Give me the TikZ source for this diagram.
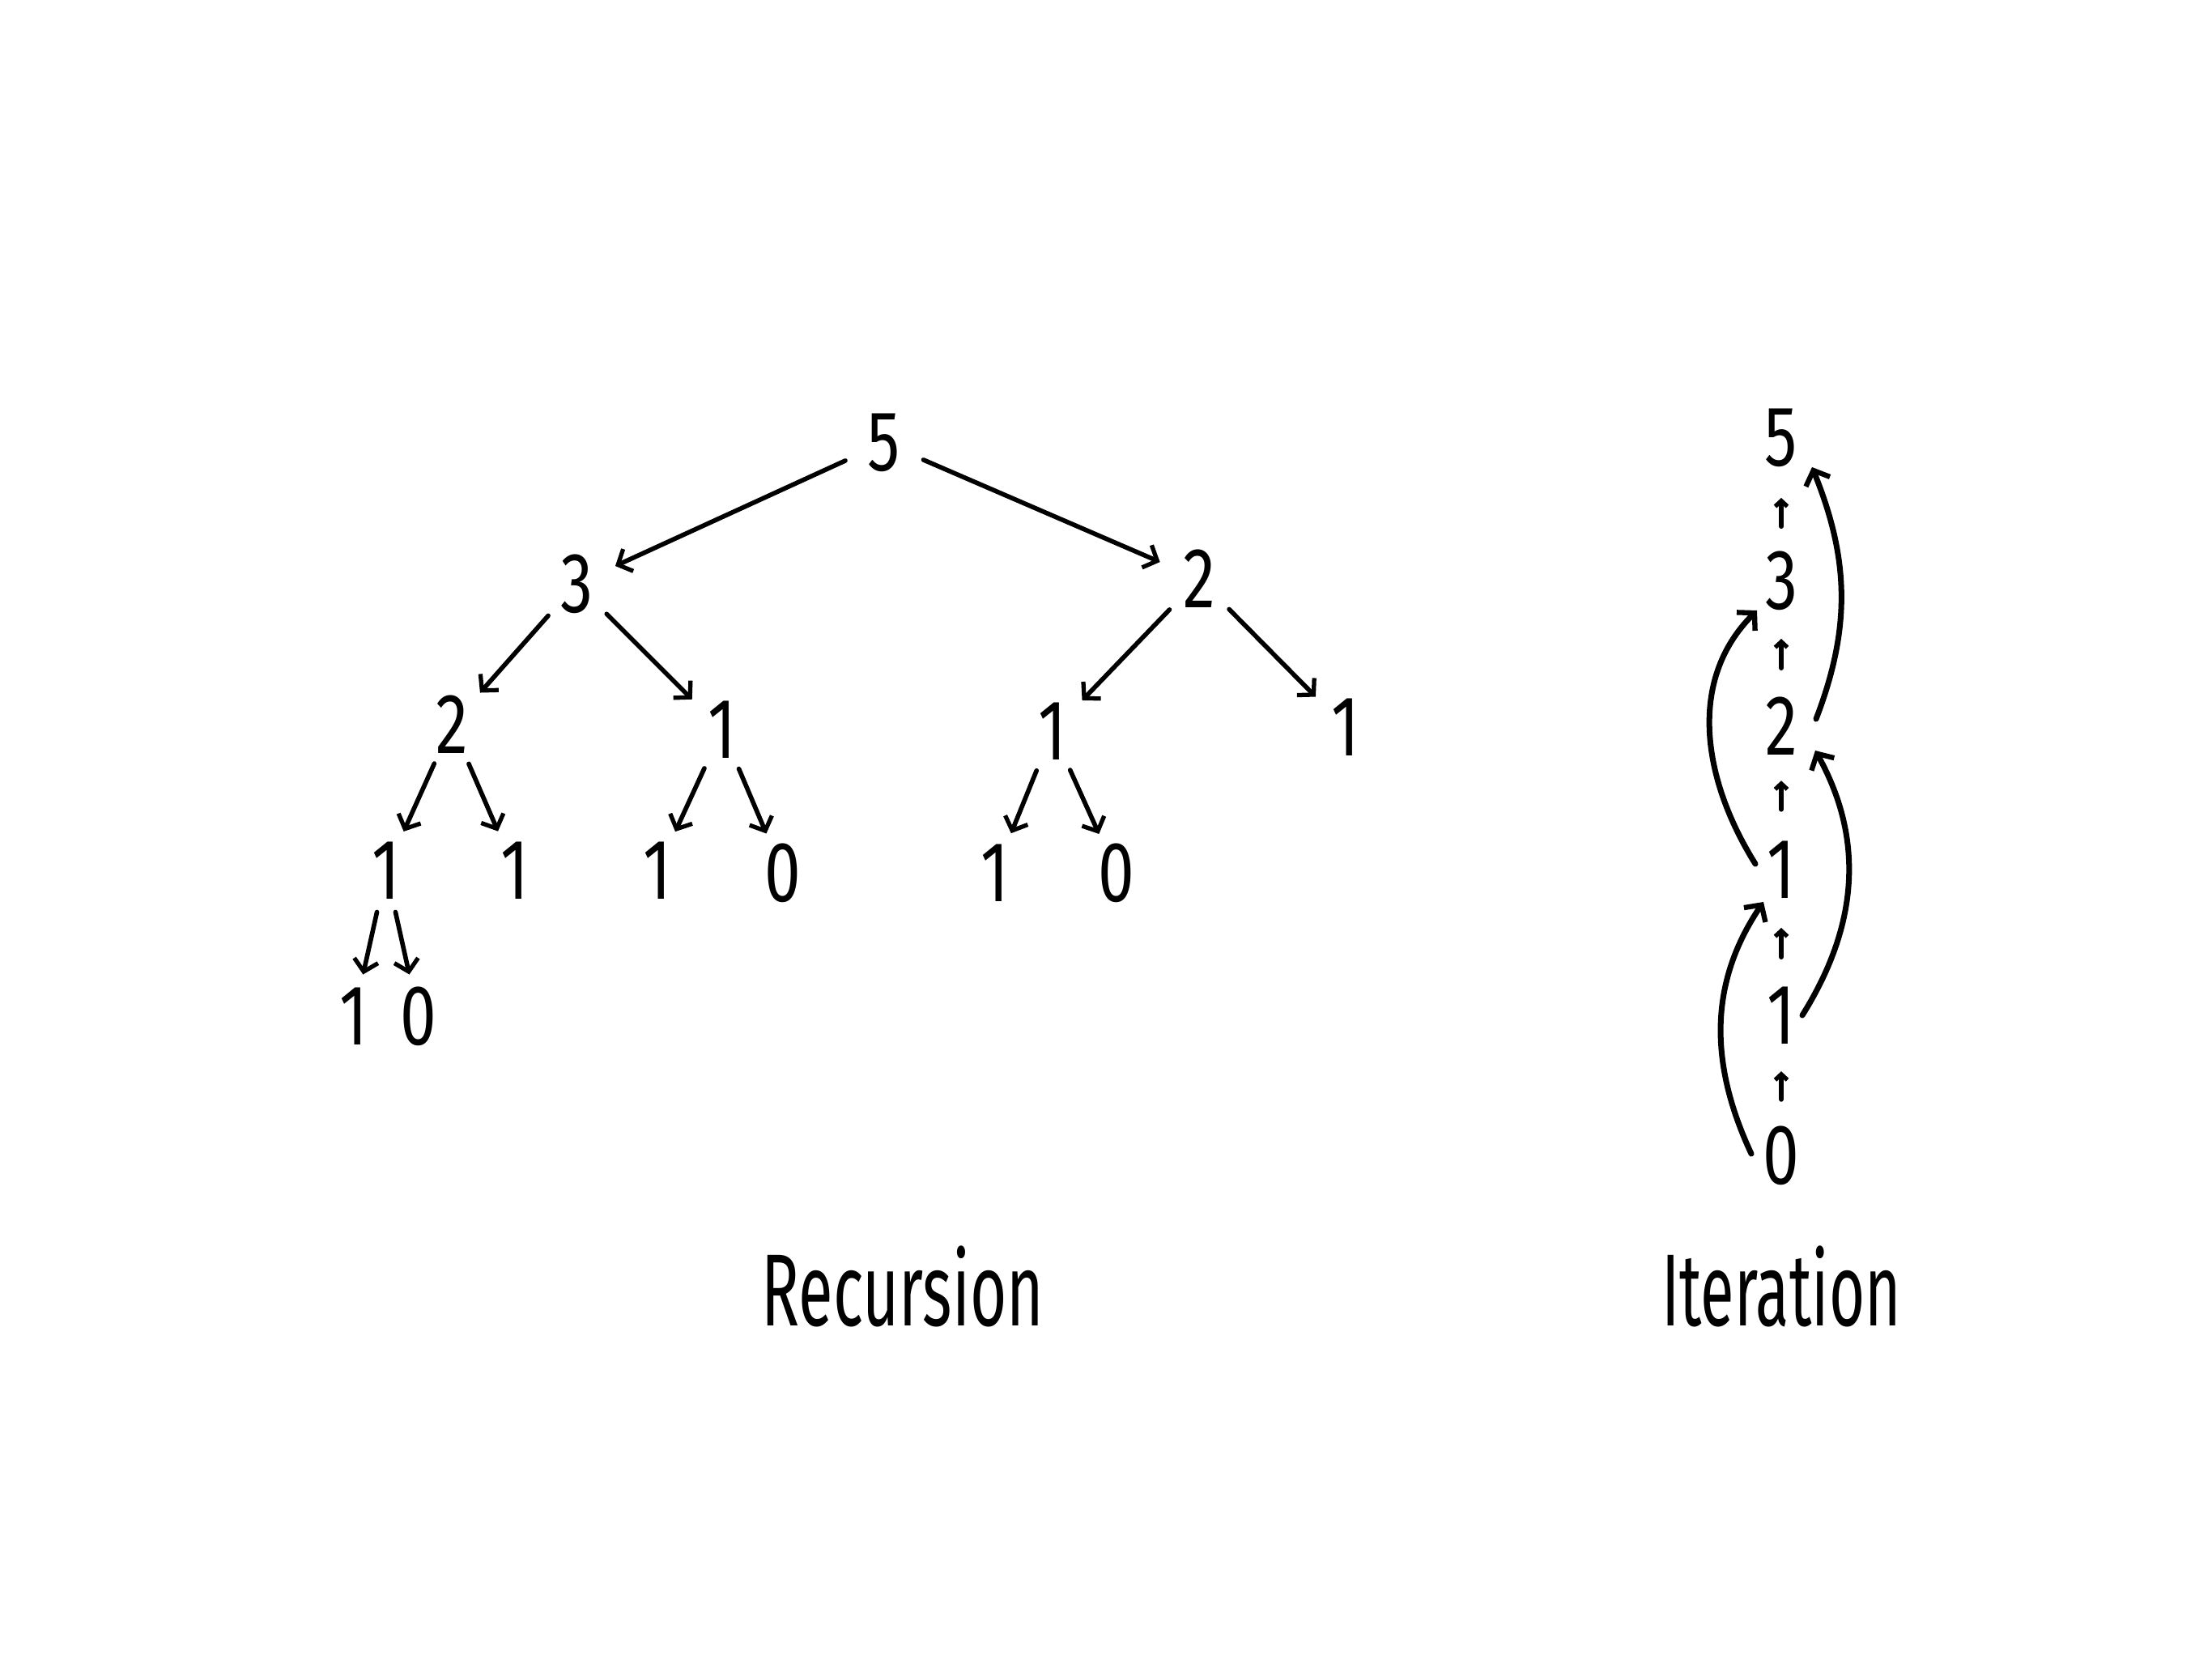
\documentclass[tikz,border=0pt]{standalone}
\usepackage{fontspec}
\newfontfamily\hand{Fira Sans}
\usetikzlibrary{arrows.meta,calc}
\tikzset{
  dig/.style={circle,inner sep=0pt,minimum size=1.04cm,font=\hand\fontsize{30}{36}\selectfont},
  idig/.style={inner sep=0pt,font=\hand\fontsize{30}{36}\selectfont},
  lbl/.style={inner sep=0pt,font=\hand\fontsize{36}{42}\selectfont},
  tarrow/.style={line width=1.6pt,line cap=round,-{Straight Barb[length=0.14cm,width=0.3cm,line width=1.5pt]}},
  carrow/.style={line width=2pt,line cap=round,-{Straight Barb[length=0.15cm,width=0.32cm,line width=1.8pt]}},
  sarrow/.style={line width=1.7pt,line cap=round,-{Straight Barb[length=0.07cm,width=0.15cm,line width=1.5pt]}}
}
\newcommand{\nd}[1]{\scalebox{0.76}[1]{#1}}
\begin{document}
\begin{tikzpicture}
\useasboundingbox[fill=white] (0,0) rectangle (27.32,20.48);
% Recursion tree (coords: x = px/100, y = (2048-px)/100)
\node[dig] (r5)  at (10.92,15.01) {\nd{5}};
\node[dig] (r3)  at (7.12,13.27) {\nd{3}};
\node[dig] (r2b) at (14.81,13.33) {\nd{2}};
\node[dig] (r2a) at (5.58,11.53) {\nd{2}};
\node[dig] (r1a) at (8.92,11.47) {\nd{1}};
\node[dig] (r1b) at (13.00,11.45) {\nd{1}};
\node[dig] (r1c) at (16.62,11.50) {\nd{1}};
\node[dig] (l1)  at (4.77,9.73) {\nd{1}};
\node[dig] (l2)  at (6.36,9.73) {\nd{1}};
\node[dig] (l3)  at (8.12,9.73) {\nd{1}};
\node[dig] (l4)  at (9.67,9.70) {\nd{0}};
\node[dig] (l5)  at (12.29,9.70) {\nd{1}};
\node[dig] (l6)  at (13.79,9.70) {\nd{0}};
\node[dig] (m1)  at (4.37,7.93) {\nd{1}};
\node[dig] (m2)  at (5.17,7.93) {\nd{0}};
\draw[tarrow] (r5) -- (r3);
\draw[tarrow] (r5) -- (r2b);
\draw[tarrow] (r3) -- (r2a);
\draw[tarrow] (r3) -- (r1a);
\draw[tarrow] (r2b) -- (r1b);
\draw[tarrow] (r2b) -- (r1c);
\draw[tarrow] (r2a) -- (l1);
\draw[tarrow] (r2a) -- (l2);
\draw[tarrow] (r1a) -- (l3);
\draw[tarrow] (r1a) -- (l4);
\draw[tarrow] (r1b) -- (l5);
\draw[tarrow] (r1b) -- (l6);
\draw[tarrow] (l1) -- (m1);
\draw[tarrow] (l1) -- (m2);
% Iteration column
\node[idig] (i5) at (22.00,15.07) {\nd{5}};
\node[idig] (i3) at (22.00,13.31) {\nd{3}};
\node[idig] (i2) at (22.00,11.51) {\nd{2}};
\node[idig] (i1b) at (22.00,9.74) {\nd{1}};
\node[idig] (i1a) at (22.00,7.94) {\nd{1}};
\node[idig] (i0) at (22.00,6.21) {\nd{0}};
\draw[sarrow] ($(i3)!0.38!(i5)$) -- ($(i3)!0.58!(i5)$);
\draw[sarrow] ($(i2)!0.40!(i3)$) -- ($(i2)!0.60!(i3)$);
\draw[sarrow] ($(i1b)!0.42!(i2)$) -- ($(i1b)!0.62!(i2)$);
\draw[sarrow] ($(i1a)!0.40!(i1b)$) -- ($(i1a)!0.60!(i1b)$);
\draw[sarrow] ($(i0)!0.40!(i1a)$) -- ($(i0)!0.60!(i1a)$);
\coordinate (a1s) at (22.43,11.60);
\coordinate (a1e) at (22.38,14.71);
\coordinate (a2s) at (21.68,9.81);
\coordinate (a2e) at (21.70,12.94);
\coordinate (a3s) at (22.26,7.94);
\coordinate (a3e) at (22.42,11.21);
\coordinate (a4s) at (21.63,6.23);
\coordinate (a4e) at (21.78,9.34);
\draw[carrow] (a1s) to[out=69,in=-68] (a1e);
\draw[carrow] (a2s) to[out=122,in=-135] (a2e);
\draw[carrow] (a3s) to[out=58,in=-61] (a3e);
\draw[carrow] (a4s) to[out=115,in=-124] (a4e);
% Labels
\node[lbl] (rec) at (11.15,4.59) {\scalebox{0.615}[1]{Recursion}};
\node[lbl] (ite) at (22.00,4.59) {\scalebox{0.6}[1]{Iteration}};
\end{tikzpicture}
\end{document}
